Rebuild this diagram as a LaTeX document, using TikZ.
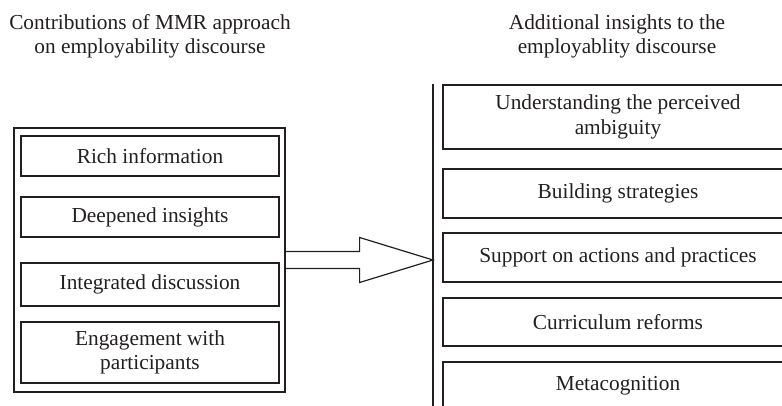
\documentclass[tikz,border=0pt]{standalone}
\usepackage{fontspec}
\setmainfont{Liberation Serif}
\usetikzlibrary{positioning,calc}
\definecolor{ink}{HTML}{231F20}

\begin{document}
\begin{tikzpicture}[
    x=0.75pt, y=-0.75pt,
    every node/.style={text=ink},
    title/.style={align=center, inner sep=0pt, font=\fontsize{16}{18}\selectfont},
    item/.style={draw=ink, line width=0.9pt, align=center, inner sep=0pt, minimum width=258*0.75pt, font=\fontsize{16}{18.5}\selectfont},
    insight/.style={draw=ink, line width=0.9pt, align=center, inner sep=0pt, minimum width=350*0.75pt, font=\fontsize{16}{18.5}\selectfont},
    frame/.style={draw=ink, line width=0.9pt, inner sep=0pt, minimum width=271*0.75pt, minimum height=264*0.75pt},
    bar/.style={draw=ink, line width=2.2pt},
    bigarrow/.style={draw=ink, line width=0.9pt, line join=miter}
]
\useasboundingbox (0,0) rectangle (782,406);
\clip (0,0) rectangle (782,406);

% Titles
\node[title] (lefttitle) at (150,36) {Contributions of MMR approach\\on employability discourse};
\node[title] (righttitle) at (617,36) {Additional insights to the\\employablity discourse};

% MMR contributions (left)
\node[frame] (frame) at (149.5,260) {};
\foreach \y/\h/\t [count=\i] in {156/40/Rich information, 217/40/Deepened insights, 284.5/43/Integrated discussion, 352.5/61/{Engagement with\\participants}} {
    \node[item, minimum height=\h*0.75pt] (item\i) at (150,\y) {\t};
}

% Insights (right)
\coordinate (bartop) at (433,84);
\coordinate (barbot) at (433,410);
\draw[bar] (bartop) -- (barbot);
\foreach \y/\h/\t [count=\i] in {117/64/{Understanding the perceived\\ambiguity}, 193.5/49/Building strategies, 257.5/49/Support on actions and practices, 322/48/Curriculum reforms, 386/48/Metacognition} {
    \node[insight, minimum height=\h*0.75pt] (ins\i) at (618,\y) {\t};
}

% Big arrow
\draw[bigarrow] ($(frame.east)+(0,-8.5)$) -- ++(74,0) -- ++(0,-14)
    -- (frame.east -| bartop) -- ($(frame.east)+(74,22.5)$) -- ++(0,-14)
    -- ($(frame.east)+(0,8.5)$);

\end{tikzpicture}
\end{document}
